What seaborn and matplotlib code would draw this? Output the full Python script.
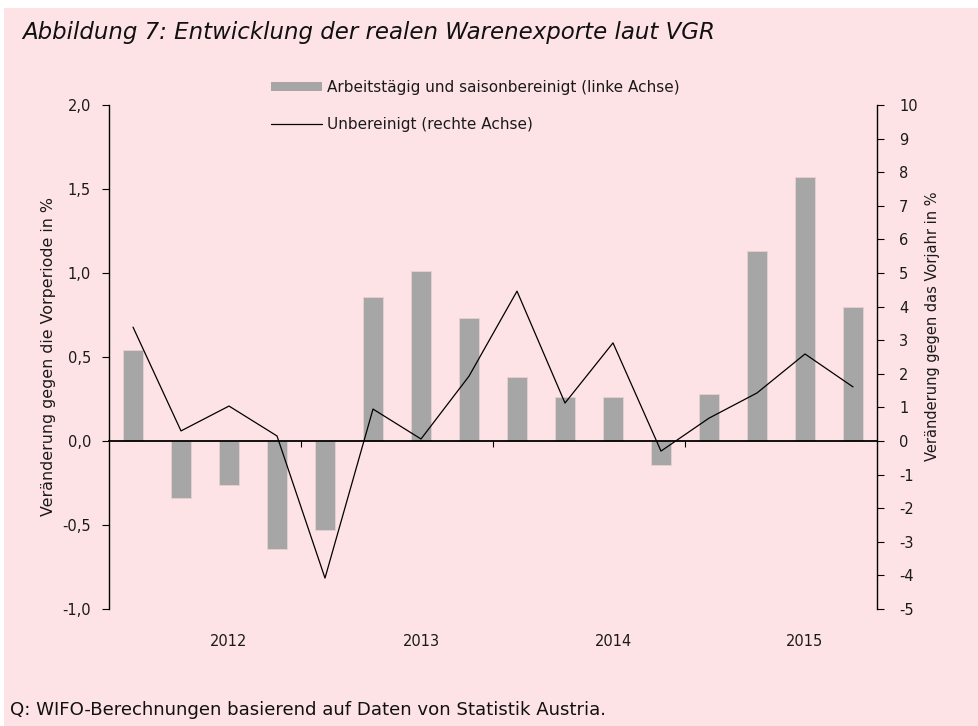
import numpy as np
import pandas as pd
import matplotlib
matplotlib.use("Agg")
import matplotlib.pyplot as plt
import seaborn as sns
from matplotlib.patches import Patch, Rectangle
from matplotlib.lines import Line2D
import matplotlib.transforms as mtransforms

# ---- data ----
quarters = ["2012Q1", "2012Q2", "2012Q3", "2012Q4",
            "2013Q1", "2013Q2", "2013Q3", "2013Q4",
            "2014Q1", "2014Q2", "2014Q3", "2014Q4",
            "2015Q1", "2015Q2", "2015Q3", "2015Q4"]
years = ["2012", "2013", "2014", "2015"]
bereinigt = [0.54, -0.34, -0.26, -0.64, -0.53, 0.86, 1.01, 0.73,
             0.38, 0.26, 0.26, -0.14, 0.28, 1.13, 1.57, 0.80]
unbereinigt = [3.39, 0.30, 1.04, 0.15, -4.08, 0.95, 0.06, 1.93,
               4.46, 1.13, 2.92, -0.30, 0.68, 1.43, 2.59, 1.61]
left_ticks = [-1.0, -0.5, 0.0, 0.5, 1.0, 1.5, 2.0]
right_ticks = list(range(-5, 11))

label_bar = "Arbeitstägig und saisonbereinigt (linke Achse)"
label_line = "Unbereinigt (rechte Achse)"
title = "Abbildung 7: Entwicklung der realen Warenexporte laut VGR"
source = "Q: WIFO-Berechnungen basierend auf Daten von Statistik Austria."

BG = "#FEE3E6"
BAR = "#A6A6A6"
TXT = "#1a1a1a"

sns.set_theme(style="white")
plt.rcParams["font.family"] = ["DejaVu Sans"]

df = pd.DataFrame({"q": quarters, "b": bereinigt, "u": unbereinigt,
                   "pos": np.arange(len(quarters))})

W, H = 979, 726
fig = plt.figure(figsize=(W / 100, H / 100), dpi=100)
fig.patch.set_facecolor("white")
fig.patches.append(Rectangle((4 / W, 0), 1, 1 - 8 / H, transform=fig.transFigure,
                             facecolor=BG, edgecolor="none", zorder=-10))

ax = fig.add_axes([109 / W, 1 - 609 / H, (877 - 109) / W, (609 - 105) / H])
ax.set_facecolor("none")

sns.barplot(data=df, x="q", y="b", color=BAR, width=0.4, ax=ax,
            saturation=1, edgecolor="#E8CFD2", linewidth=0.6)
ax.set_ylim(-1.0, 2.0)
ax.set_xlim(-0.5, len(quarters) - 0.5)
ax.set_yticks(left_ticks)
ax.set_yticklabels([f"{v:.1f}".replace(".", ",") for v in left_ticks])
ax.set_ylabel("Veränderung gegen die Vorperiode in %", fontsize=11.4,
              color=TXT)
ax.yaxis.set_label_coords((56 - 109) / 768, (609 - 357) / 504)
ax.set_xlabel("")

for s in ["top", "right"]:
    ax.spines[s].set_visible(False)
ax.spines["left"].set_color("black")
ax.spines["left"].set_linewidth(1.0)
ax.spines["bottom"].set_position(("data", 0))
ax.spines["bottom"].set_color("black")
ax.spines["bottom"].set_linewidth(1.3)
ax.spines["bottom"].set_zorder(5)

ax.set_xticks([3.5, 7.5, 11.5])
ax.set_xticklabels([])
ax.tick_params(axis="x", which="major", direction="out", length=4, width=0.8,
               color="black", bottom=True)
ax.tick_params(axis="y", direction="out", length=5, width=0.8, color="black",
               left=True, labelsize=10.5, labelcolor=TXT, pad=8)

trans = mtransforms.blended_transform_factory(ax.transData, ax.transAxes)
for i, y in enumerate(years):
    ax.text(4 * i + 2, -0.065, y, transform=trans, ha="center", va="center",
            fontsize=10.5, color=TXT)

ax2 = ax.twinx()
sns.lineplot(data=df, x="pos", y="u", color="black", linewidth=0.9, ax=ax2,
             legend=False)
ax2.set_ylim(-5, 10)
ax2.set_xlim(-0.5, len(quarters) - 0.5)
ax2.set_yticks(right_ticks)
ax2.set_yticklabels([str(v) for v in right_ticks])
ax2.set_ylabel("Veränderung gegen das Vorjahr in %", fontsize=10.5,
               color=TXT)
ax2.yaxis.set_label_coords((925 - 109) / 768, (609 - 326) / 504)
ax2.set_xlabel("")
for s in ["top", "left", "bottom"]:
    ax2.spines[s].set_visible(False)
ax2.spines["right"].set_color("black")
ax2.spines["right"].set_linewidth(1.0)
ax2.tick_params(axis="y", direction="out", length=5, width=0.8, color="black",
                right=True, labelsize=10.5, labelcolor=TXT, pad=11)

handles = [Patch(facecolor=BAR, edgecolor="none", label=label_bar),
           Line2D([], [], color="black", linewidth=0.9, label=label_line)]
fs = 11
fig.legend(handles=handles, loc="upper left",
           bbox_to_anchor=(271 / W, 1 - 80 / H), frameon=False,
           fontsize=fs, borderpad=0, borderaxespad=0,
           handlelength=51 / (fs * 100 / 72), handleheight=0.6,
           handletextpad=5 / (fs * 100 / 72),
           labelspacing=1.45, labelcolor=TXT)

fig.text(22 / W, 1 - 32 / H, title, fontsize=16.5, style="italic",
         ha="left", va="center", color="#111111")
fig.text(10 / W, 1 - 710 / H, source, fontsize=13.1, ha="left", va="center",
         color="#111111")

fig.savefig("out.png", dpi=100, facecolor=fig.get_facecolor())
